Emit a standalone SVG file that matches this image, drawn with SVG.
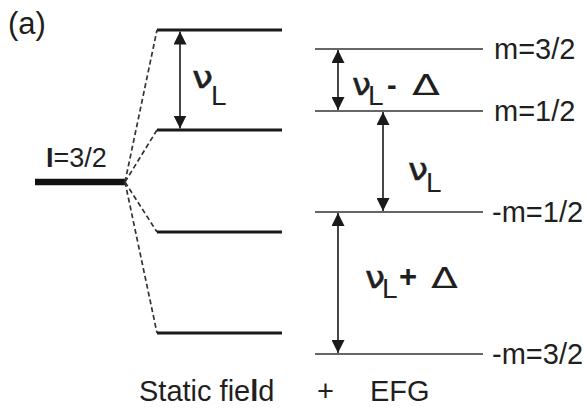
<svg xmlns="http://www.w3.org/2000/svg" width="586" height="408" viewBox="0 0 586 408">
<defs>
<marker id="ah" viewBox="0 0 13 13" refX="13" refY="6.5" markerWidth="13" markerHeight="13" markerUnits="userSpaceOnUse" orient="auto-start-reverse">
<path d="M0,0 L13,6.5 L0,13 Z" fill="#1a1a1a"/>
</marker>
<style>
text{font-family:"Liberation Sans",Arial,sans-serif;fill:#1f1f1f}
.lvl{stroke:#1a1a1a;stroke-width:3;fill:none}
.lvr{stroke:#333;stroke-width:1.7;fill:none}
.dash{stroke:#333;stroke-width:1.7;stroke-dasharray:5 3;fill:none}
.arr{stroke:#1a1a1a;stroke-width:1.6;fill:none;marker-start:url(#ah);marker-end:url(#ah)}
.lab{font-size:29px}
.nu{font-family:"DejaVu Sans",sans-serif;font-size:31px;stroke:#1f1f1f;stroke-width:0.5}
.sub{font-size:28px}
.big{font-size:29px}
.dl{font-family:"DejaVu Sans",sans-serif;font-size:29px}
</style>
</defs>
<text x="8" y="34" style="font-size:31px">(a)</text>
<g id="unsplit">
<line x1="35" y1="182" x2="125" y2="182" stroke="#111" stroke-width="6.5"/>
<text x="46" y="167" style="font-size:27px"><tspan font-weight="bold">I</tspan>=3/2</text>
</g>
<g id="static-levels">
<line class="lvl" x1="157" y1="30" x2="282" y2="30"/>
<line class="lvl" x1="157" y1="130" x2="282" y2="130"/>
<line class="lvl" x1="157" y1="232" x2="282" y2="232"/>
<line class="lvl" x1="157" y1="333" x2="282" y2="333"/>
</g>
<g id="efg-levels">
<line class="lvr" x1="315" y1="49" x2="483" y2="49"/>
<line class="lvr" x1="315" y1="111" x2="483" y2="111"/>
<line class="lvr" x1="315" y1="212" x2="483" y2="212"/>
<line class="lvr" x1="315" y1="354" x2="483" y2="354"/>
<text x="494" y="59" class="lab">m=3/2</text>
<text x="494" y="121" class="lab">m=1/2</text>
<text x="492" y="222" class="lab">-m=1/2</text>
<text x="492" y="364" class="lab">-m=3/2</text>
</g>
<g id="connectors">
<line class="dash" x1="125" y1="182" x2="157" y2="30"/>
<line class="dash" x1="125" y1="182" x2="157" y2="130"/>
<line class="dash" x1="125" y1="182" x2="157" y2="232"/>
<line class="dash" x1="125" y1="182" x2="157" y2="333"/>
<line class="arr" x1="180" y1="31.5" x2="180" y2="128.5"/>
<line class="arr" x1="338" y1="50" x2="338" y2="110"/>
<line class="arr" x1="383" y1="112" x2="383" y2="211"/>
<line class="arr" x1="338" y1="213" x2="338" y2="353"/>
</g>
<g id="labels">
<text x="192" y="88" class="nu" textLength="21" lengthAdjust="spacingAndGlyphs">ν</text>
<text x="211" y="105" class="sub">L</text>
<text x="352" y="95" class="nu" textLength="19" lengthAdjust="spacingAndGlyphs">ν</text>
<text x="368" y="105" class="sub">L</text>
<text x="387" y="95" class="big" font-weight="bold">-</text>
<text x="412" y="95" class="dl" textLength="28" lengthAdjust="spacingAndGlyphs">Δ</text>
<text x="408" y="180" class="nu" textLength="20" lengthAdjust="spacingAndGlyphs">ν</text>
<text x="426" y="192" class="sub">L</text>
<text x="365" y="288" class="nu" textLength="20" lengthAdjust="spacingAndGlyphs">ν</text>
<text x="382" y="298" class="sub">L</text>
<text x="399" y="287" style="font-size:31px" font-weight="bold">+</text>
<text x="431" y="288" class="dl" textLength="27" lengthAdjust="spacingAndGlyphs">Δ</text>
</g>
<g id="axis-labels">
<text x="139" y="401" class="big">Static fie<tspan font-weight="bold">l</tspan>d</text>
<text x="317" y="401" class="big">+</text>
<text x="370" y="401" class="big">EFG</text>
</g>
</svg>
